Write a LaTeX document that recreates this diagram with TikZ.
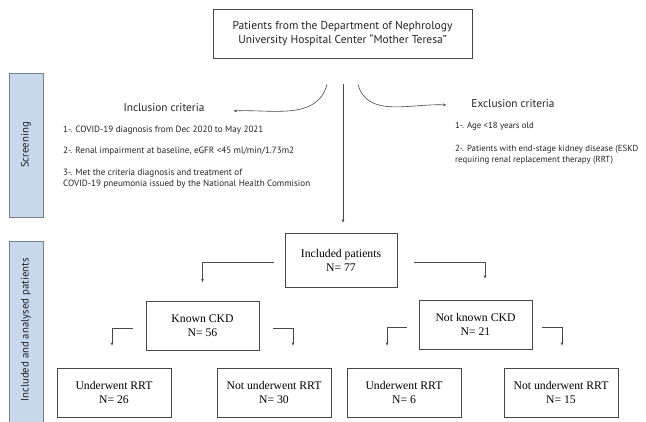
\documentclass[tikz,border=0pt]{standalone}
\usepackage{fontspec}
\setmainfont{Liberation Serif}
\newfontfamily\flowsans{PT Sans}
\usetikzlibrary{arrows.meta,positioning}
\definecolor{panelBlue}{RGB}{200,217,238}
\definecolor{panelLine}{RGB}{118,124,136}
\definecolor{boxLine}{RGB}{72,72,72}
\definecolor{txtGray}{RGB}{35,35,35}

\begin{document}
\begin{tikzpicture}[x=1pt, y=-1pt,
    flowbox/.style={draw=boxLine, line width=0.8pt, minimum width=113pt, minimum height=49pt, align=center, inner sep=0pt, font=\fontsize{11.7}{14}\selectfont},
    panel/.style={draw=panelLine, fill=panelBlue, line width=0.8pt, minimum width=34pt, inner sep=0pt},
    paneltext/.style={rotate=90, text=txtGray, font=\flowsans\fontsize{10.8}{12}\selectfont},
    crit/.style={anchor=west, align=left, inner sep=0pt, text=txtGray, font=\flowsans\fontsize{9.1}{11}\selectfont},
    crittitle/.style={inner sep=0pt, text=txtGray, font=\flowsans\fontsize{11.3}{13}\selectfont},
    arr/.style={draw=boxLine, line width=0.6pt, -{Stealth[length=3.4pt,width=2.8pt]}}]
\useasboundingbox (0,0) rectangle (646,421);

% side panels
\node[panel, minimum height=144pt] (screen) at (26,145) {};
\node[paneltext] at (screen.center) {Screening};
\node[panel, minimum height=189pt] (analysed) at (26,335.5) {};
\node[paneltext] at (26,330) {Included and analysed patients};

% source
\node[draw=boxLine, line width=0.8pt, minimum width=259pt, minimum height=49pt, align=center, inner sep=0pt, text=txtGray,
      font=\flowsans\fontsize{11.5}{14}\selectfont] (top) at (342.5,33.5)
      {Patients from the Department of Nephrology\\University Hospital Center “Mother Teresa”};

% criteria
\node[crittitle] (inctitle) at (164,108) {Inclusion criteria};
\node[crit] (inc1) at (63,130) {1-. COVID-19 diagnosis from Dec 2020 to May 2021};
\node[crit] (inc2) at (63,151) {2-. Renal impairment at baseline, eGFR <45 ml/min/1.73m2};
\node[crit] (inc3) at (63,178.5) {3-. Met the criteria diagnosis and treatment of\\COVID-19 pneumonia issued by the National Health Commision};
\node[crittitle] (exctitle) at (513,104) {Exclusion criteria};
\node[crit, font=\flowsans\fontsize{8.8}{11}\selectfont] (exc1) at (455,126) {1-. Age <18 years old};
\node[crit, font=\flowsans\fontsize{8.8}{11}\selectfont] (exc2) at (455,154.5) {2-. Patients with end-stage kidney disease (ESKD\\requiring renal replacement therapy (RRT)};

\draw[arr] ([xshift=-15.5pt,yshift=-26pt]top.south) to[out=-105,in=3] ([xshift=29pt,yshift=-3pt]inctitle.east);
\draw[arr] ([xshift=15.5pt,yshift=-26pt]top.south) to[out=-75,in=177] ([xshift=-25pt,yshift=-1pt]exctitle.west);

% included patients
\node[flowbox, minimum width=112pt, minimum height=54pt] (incl) at (341,260) {Included patients\\N= 77};
\draw[arr] ([xshift=0.5pt,yshift=-26pt]top.south) -- ([xshift=2pt,yshift=10pt]incl.north);

\node[flowbox] (known) at (202.5,326) {Known CKD\\N= 56};
\node[flowbox] (notknown) at (475.5,324.5) {Not known CKD\\N= 21};
\draw[arr] ([xshift=-11pt,yshift=-2pt]incl.west) -| ([yshift=19pt]known.north);
\draw[arr] ([xshift=17pt,yshift=-2pt]incl.east) -| ([xshift=9.5pt,yshift=21pt]notknown.north);

\node[flowbox, minimum width=114pt] (und1) at (114,392.5) {Underwent RRT\\N= 26};
\node[flowbox, minimum width=114pt] (nund1) at (274,392.5) {Not underwent RRT\\N= 30};
\node[flowbox, minimum width=114pt] (und2) at (404,392.5) {Underwent RRT\\N= 6};
\node[flowbox, minimum width=114pt] (nund2) at (561,392.5) {Not underwent RRT\\N= 15};

\draw[arr] ([xshift=-13pt,yshift=-2pt]known.west) -| ([xshift=-2pt,yshift=22pt]und1.north);
\draw[arr] ([xshift=14pt,yshift=-2pt]known.east) -| ([xshift=19pt,yshift=22pt]nund1.north);
\draw[arr] ([xshift=-12pt,yshift=-2.5pt]notknown.west) -| ([xshift=-17pt,yshift=22pt]und2.north);
\draw[arr] ([xshift=10pt,yshift=-2.5pt]notknown.east) -| ([xshift=1pt,yshift=22pt]nund2.north);
\end{tikzpicture}
\end{document}
